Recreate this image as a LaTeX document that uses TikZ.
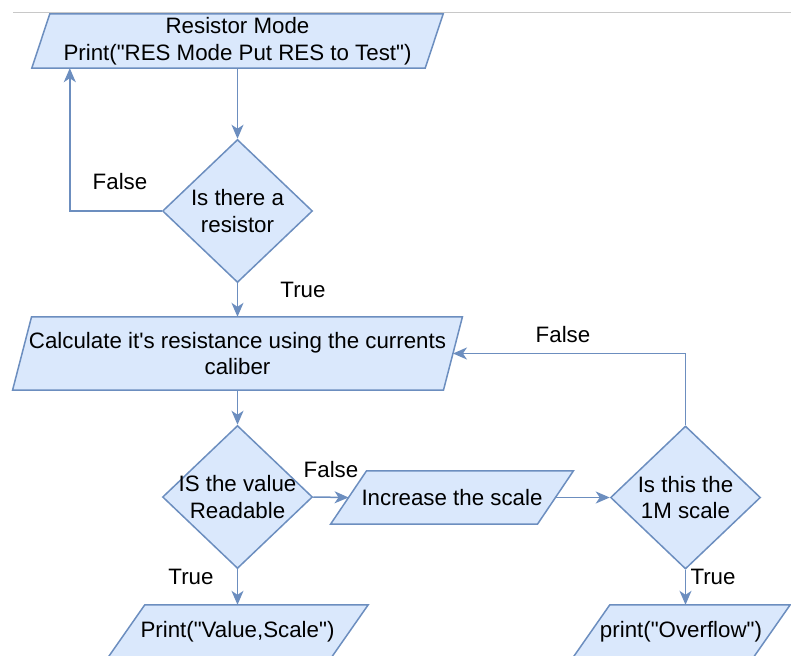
\documentclass[tikz,border=0pt]{standalone}
\usepackage{fontspec}
\setmainfont{Liberation Sans}
\usetikzlibrary{shapes.geometric,arrows.meta,backgrounds}
\definecolor{fillblue}{HTML}{DAE8FC}
\definecolor{strokeblue}{HTML}{6C8EBF}
\definecolor{rulegray}{HTML}{C8C8C8}
\newcommand\dq{\XeTeXglyph\XeTeXcharglyph34\relax}
\newcommand\ap{\XeTeXglyph\XeTeXcharglyph39\relax}
\newcommand\drawpara[2]{%
  \draw[parashape] ([xshift=#2]#1.north west) -- ([xshift=#2]#1.north east)
    -- ([xshift=-#2]#1.south east) -- ([xshift=-#2]#1.south west) -- cycle;}
\begin{document}
\begin{tikzpicture}[x=1pt,y=-1pt,
  txt/.style={font=\fontsize{22.3}{26.5}\selectfont, align=center, text=black, inner sep=0pt},
  parabox/.style={txt, rectangle, minimum width=#1},
  parashape/.style={draw=strokeblue, fill=fillblue, line width=1.5pt},
  dec/.style={diamond, draw=strokeblue, fill=fillblue, line width=1.5pt,
    minimum width=150pt, minimum height=143pt, inner sep=0pt},
  conn/.style={draw=strokeblue, line width=1.5pt},
  arr/.style={conn, -{Stealth[length=14pt,width=12pt,inset=4pt]}}]
\useasboundingbox (0,0) rectangle (791,655);
\clip (0,0) rectangle (791,655);
\draw[rulegray, line width=1pt] (13,12.7) -- (791,12.7);

% parallelogram nodes (text boxes sized to the shape's mid-width and height)
\node[parabox=393pt, minimum height=54pt] (res) at (237.5,41) {Resistor Mode\\Print(\dq RES Mode Put RES to Test\dq)};
\node[parabox=430.5pt, minimum height=73pt] (calc) at (237.5,353.5) {Calculate it\ap s resistance using the currents\\caliber};
\node[parabox=206.5pt, minimum height=53pt] (inc) at (452,497.5) {Increase the scale};
\node[parabox=223pt, minimum height=54pt] (prt) at (237.5,632) {Print(\dq Value,Scale\dq)};
\node[parabox=180pt, minimum height=54pt] (ovf) at (681,632) {print(\dq Overflow\dq)};

\begin{pgfonlayer}{background}
\drawpara{res}{9pt}
\drawpara{calc}{9.5pt}
\drawpara{inc}{18pt}
\drawpara{prt}{19pt}
\drawpara{ovf}{19pt}
\end{pgfonlayer}

% decisions
\node[dec] (d1) at (237.5,211) {};
\node[txt] (d1t) at (d1.center) {Is there a\\resistor};
\node[dec] (d2) at (237.5,497) {};
\node[txt] (d2t) at (d2.center) {IS the value\\Readable};
\node[dec] (d3) at (685.5,497.5) {};
\node[txt] (d3t) at (d3.center) {Is this the\\1M scale};

% connectors
\draw[arr] (res.south) -- (d1.north);
\draw[arr] (d1.west) -| ([xshift=29pt]res.south west);
\draw[arr] (d1.south) -- (d1.south |- calc.north);
\draw[arr] (calc.south) -- (d2.north);
\draw[arr] (d2.east) -- (inc.west);
\draw[arr] (inc.east) -- (d3.west);
\draw[arr] (d3.north) |- (calc.east);
\draw[arr] (d2.south) -- (d2.south |- prt.north);
\draw[arr] (d3.south) -- (d3.south |- ovf.north);

% labels
\node[txt] (lf1) at (120,182) {False};
\node[txt] (lt1) at (303,290) {True};
\node[txt] (lf2) at (331,470) {False};
\node[txt] (lf3) at (563,335) {False};
\node[txt] (lt2) at (191,577) {True};
\node[txt] (lt3) at (713,577) {True};
\end{tikzpicture}
\end{document}
